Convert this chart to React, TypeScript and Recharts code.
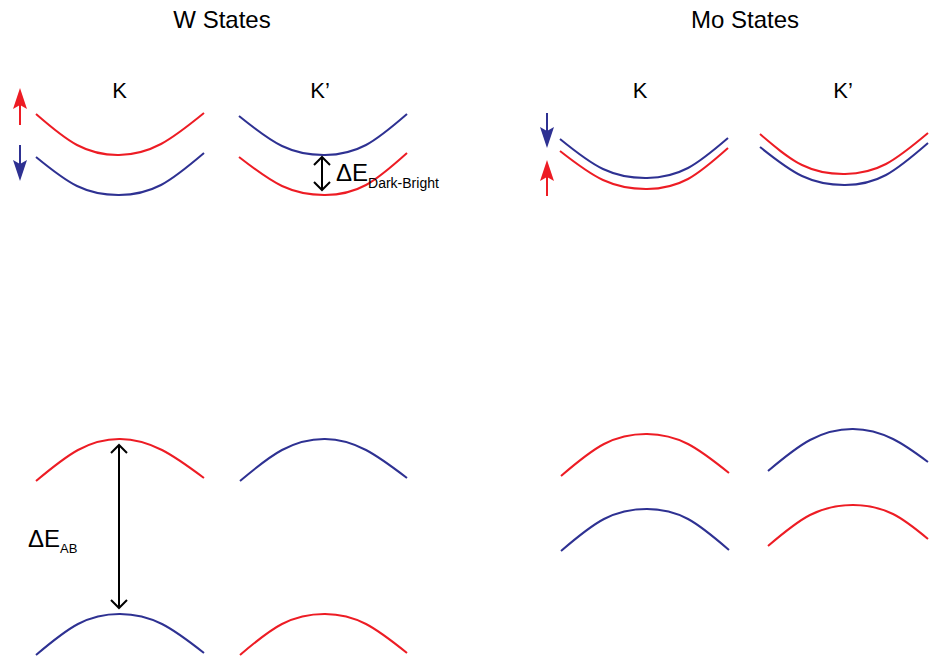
import React from 'react';
import { ComposedChart, Line, XAxis, YAxis, Scatter, ReferenceLine } from 'recharts';

// Coordinate system: k (horizontal, arbitrary units) and band position (vertical, arbitrary units, increasing downward)
const RED = '#ED1C24';
const BLUE = '#2E3192';
const INK = '#000000';

type P = [number, number];

// ---- W states: conduction bands ----
const wCondK_spinUp: P[] = [[36, 114], [77, 145], [119, 155], [161, 144], [204, 113]];
const wCondK_spinDown: P[] = [[36, 157], [77, 186], [119, 195], [161, 185], [204, 153]];
const wCondKp_spinDown: P[] = [[239, 116], [282, 146], [325, 155], [366, 145], [407, 114]];
const wCondKp_spinUp: P[] = [[239, 157], [282, 186], [325, 195], [366, 185], [407, 153]];

// ---- Mo states: conduction bands ----
const moCondK_spinDown: P[] = [[560, 139], [603, 169], [647, 178], [688, 168], [728, 138]];
const moCondK_spinUp: P[] = [[560, 151], [603, 180], [647, 189], [688, 179], [728, 148]];
const moCondKp_spinUp: P[] = [[760, 134], [802, 165], [845, 174], [886, 164], [928, 133]];
const moCondKp_spinDown: P[] = [[760, 147], [802, 176], [845, 185], [886, 175], [928, 143]];

// ---- W states: valence bands ----
const wValK_spinUp: P[] = [[36, 481], [78, 450], [120, 439], [162, 450], [204, 478]];
const wValKp_spinDown: P[] = [[240, 481], [282, 450], [325, 439], [366, 450], [407, 478]];
const wValK_spinDown: P[] = [[36, 655], [78, 624], [120, 614], [162, 624], [204, 653]];
const wValKp_spinUp: P[] = [[240, 655], [282, 624], [325, 614], [366, 624], [407, 653]];

// ---- Mo states: valence bands ----
const moValK_spinUp: P[] = [[561, 476], [604, 444], [647, 434], [688, 444], [729, 473]];
const moValKp_spinDown: P[] = [[768, 471], [810, 440], [853, 429], [893, 439], [928, 462]];
const moValK_spinDown: P[] = [[561, 551], [604, 519], [647, 509], [688, 519], [729, 550]];
const moValKp_spinUp: P[] = [[768, 546], [810, 515], [853, 505], [893, 514], [928, 539]];

const bands: { pts: P[]; color: string }[] = [
  { pts: wCondK_spinUp, color: RED },
  { pts: wCondK_spinDown, color: BLUE },
  { pts: wCondKp_spinDown, color: BLUE },
  { pts: wCondKp_spinUp, color: RED },
  { pts: moCondK_spinDown, color: BLUE },
  { pts: moCondK_spinUp, color: RED },
  { pts: moCondKp_spinUp, color: RED },
  { pts: moCondKp_spinDown, color: BLUE },
  { pts: wValK_spinUp, color: RED },
  { pts: wValKp_spinDown, color: BLUE },
  { pts: wValK_spinDown, color: BLUE },
  { pts: wValKp_spinUp, color: RED },
  { pts: moValK_spinUp, color: RED },
  { pts: moValKp_spinDown, color: BLUE },
  { pts: moValK_spinDown, color: BLUE },
  { pts: moValKp_spinUp, color: RED },
];

// Spin arrows: shaft start and head tip
const spinArrows = [
  { x: 20, from: 125, tip: 88, dir: 'up', color: RED },
  { x: 20, from: 145, tip: 181, dir: 'down', color: BLUE },
  { x: 547, from: 113, tip: 148, dir: 'down', color: BLUE },
  { x: 547, from: 196, tip: 160, dir: 'up', color: RED },
];

// Energy-gap double arrows
const gapArrows = [
  { x: 322, top: 157, bottom: 190 },
  { x: 119, top: 445, bottom: 608 },
];

// Text labels
const titles = [
  { x: 222, y: 28, text: 'W States' },
  { x: 745, y: 28, text: 'Mo States' },
];
const valleyLabels = [
  { x: 119.5, y: 98, text: 'K' },
  { x: 320, y: 98, text: 'K\u2019' },
  { x: 640, y: 98, text: 'K' },
  { x: 843, y: 98, text: 'K\u2019' },
];
const gapLabels = [
  { x: 336, y: 181, main: '\u0394E', sub: 'Dark-Bright', subSize: 14, dy: 7 },
  { x: 28, y: 547, main: '\u0394E', sub: 'AB', subSize: 13, dy: 6 },
];

const FONT = '"Liberation Sans", Arial, sans-serif';

const SpinHead = (props: any) => {
  const { cx, cy, payload } = props;
  const s = payload.dir === 'up' ? 1 : -1;
  const d = `M ${cx} ${cy} L ${cx - 7} ${cy + s * 21} L ${cx} ${cy + s * 17} L ${cx + 7} ${cy + s * 21} Z`;
  return <path d={d} fill={payload.color} stroke="none" />;
};

const Chevron = (props: any) => {
  const { cx, cy, payload } = props;
  const s = payload.dir === 'up' ? 1 : -1;
  const d = `M ${cx - 8} ${cy + s * 8} L ${cx} ${cy} L ${cx + 8} ${cy + s * 8}`;
  return <path d={d} fill="none" stroke={INK} strokeWidth={2} />;
};

const TitleText = (props: any) => {
  const { cx, cy, payload } = props;
  return (
    <text x={cx} y={cy} textAnchor="middle" fontFamily={FONT} fontSize={payload.size} fill={INK}>
      {payload.text}
    </text>
  );
};

const GapText = (props: any) => {
  const { cx, cy, payload } = props;
  return (
    <text x={cx} y={cy} textAnchor="start" fontFamily={FONT} fill={INK}>
      <tspan fontSize={24}>{payload.main}</tspan>
      <tspan fontSize={payload.subSize} dy={payload.dy}>{payload.sub}</tspan>
    </text>
  );
};

export default function App() {
  const spinHeadData = spinArrows.map((a) => ({ x: a.x, y: a.tip, dir: a.dir, color: a.color }));
  const chevronData = gapArrows.flatMap((g) => [
    { x: g.x, y: g.top, dir: 'up' },
    { x: g.x, y: g.bottom, dir: 'down' },
  ]);
  const titleData = [
    ...titles.map((t) => ({ ...t, size: 24 })),
    ...valleyLabels.map((t) => ({ ...t, size: 22 })),
  ];

  return (
    <div style={{ position: 'absolute', left: 0, top: 0, background: '#fff' }}>
      <ComposedChart width={929} height={658} margin={{ top: 0, right: 0, bottom: 0, left: 0 }}>
        <XAxis type="number" dataKey="x" domain={[0, 929]} hide allowDataOverflow />
        <YAxis type="number" dataKey="y" domain={[0, 658]} reversed hide allowDataOverflow />
        {bands.map((b, i) => (
          <Line
            key={i}
            data={b.pts.map(([x, y]) => ({ x, y }))}
            dataKey="y"
            type="natural"
            stroke={b.color}
            strokeWidth={2}
            dot={false}
            activeDot={false}
            isAnimationActive={false}
          />
        ))}
        {spinArrows.map((a, i) => (
          <ReferenceLine
            key={'s' + i}
            segment={[{ x: a.x, y: a.from }, { x: a.x, y: a.dir === 'up' ? a.tip + 16 : a.tip - 16 }]}
            stroke={a.color}
            strokeWidth={2}
          />
        ))}
        {gapArrows.map((g, i) => (
          <ReferenceLine
            key={'g' + i}
            segment={[{ x: g.x, y: g.top }, { x: g.x, y: g.bottom }]}
            stroke={INK}
            strokeWidth={2}
          />
        ))}
        <Scatter data={spinHeadData} dataKey="y" shape={SpinHead} isAnimationActive={false} />
        <Scatter data={chevronData} dataKey="y" shape={Chevron} isAnimationActive={false} />
        <Scatter data={titleData} dataKey="y" shape={TitleText} isAnimationActive={false} />
        <Scatter data={gapLabels} dataKey="y" shape={GapText} isAnimationActive={false} />
      </ComposedChart>
    </div>
  );
}
